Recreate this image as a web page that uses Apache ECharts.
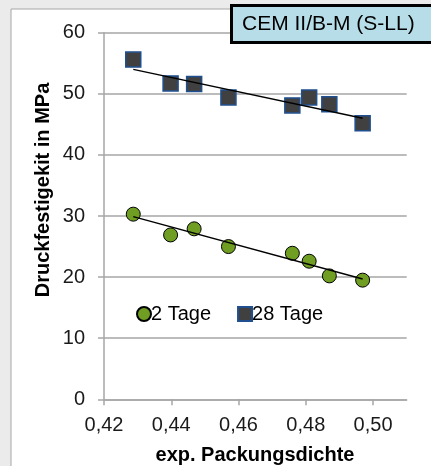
<!DOCTYPE html>
<html><head><meta charset="utf-8">
<script src="https://cdn.jsdelivr.net/npm/echarts@6/dist/echarts.min.js"></script>
<style>html,body{margin:0;padding:0;background:#ebebeb;}#c{width:431px;height:466px;}</style>
</head><body><div id="c"></div>
<script>
const seriesNames = ['2 Tage', '28 Tage'];
const packDensity = [0.4287, 0.4398, 0.4468, 0.457, 0.476, 0.481, 0.487, 0.4969];
const strength2d = [30.3, 26.9, 27.9, 25.0, 23.9, 22.6, 20.2, 19.5];
const strength28d = [55.6, 51.7, 51.6, 49.4, 48.1, 49.4, 48.3, 45.2];
const trendX = [0.4287, 0.4969];
const trend2d = [29.9, 19.7];
const trend28d = [54.0, 46.0];
const xTicks = [0.42, 0.44, 0.46, 0.48, 0.50];
const yTicks = [0, 10, 20, 30, 40, 50, 60];
const titleText = 'CEM II/B-M (S-LL)';
const xTitle = 'exp. Packungsdichte';
const yTitle = 'Druckfestigekit in MPa';

const pairs = (xs, ys) => xs.map((x, i) => [x, ys[i]]);
const font = 'Liberation Sans, Arial, sans-serif';
const chart = echarts.init(document.getElementById('c'), null, {renderer: 'canvas'});
chart.setOption({
  backgroundColor: '#ebebeb',
  animation: false,
  graphic: [
    {type: 'rect', z: -10, shape: {x: 11, y: 9, width: 440, height: 480}, style: {fill: '#ffffff', stroke: '#a6a6a6', lineWidth: 1}},
    {type: 'rect', z: 10, shape: {x: 231.5, y: 5.5, width: 210, height: 37}, style: {fill: '#b7dee8', stroke: '#000000', lineWidth: 3}},
    {type: 'text', z: 11, x: 242, y: 24, style: {text: titleText, font: '21px ' + font, fill: '#000', textVerticalAlign: 'middle'}},
    {type: 'text', z: 11, x: 255, y: 455, style: {text: xTitle, font: 'bold 20px ' + font, fill: '#000', textAlign: 'center', textVerticalAlign: 'middle'}},
    {type: 'text', z: 11, x: 43, y: 190, rotation: Math.PI / 2, style: {text: yTitle, font: 'bold 20px ' + font, fill: '#000', textAlign: 'center', textVerticalAlign: 'middle'}}
  ],
  grid: {left: 104, right: 24.3, top: 32.7, bottom: 66.7, containLabel: false},
  legend: {
    left: 131, top: 299,
    itemWidth: 14, itemHeight: 14, itemGap: 26,
    textStyle: {fontSize: 20, fontFamily: font, color: '#000', padding: [0, 0, 0, -5]},
    data: [
      {name: seriesNames[0], icon: 'circle'},
      {name: seriesNames[1], icon: 'rect'}
    ]
  },
  xAxis: {
    type: 'value', min: 0.42, max: 0.51, interval: 0.02,
    splitLine: {show: false},
    axisLine: {lineStyle: {color: '#a6a6a6', width: 1.5}},
    axisTick: {show: true, length: 6, lineStyle: {color: '#a6a6a6', width: 1.5}, customValues: xTicks},
    axisLabel: {customValues: xTicks, fontSize: 20, fontFamily: font, color: '#1a1a1a', margin: 16,
      formatter: v => v.toFixed(2).replace('.', ',')}
  },
  yAxis: {
    type: 'value', min: 0, max: 60, interval: 10,
    splitLine: {show: true, lineStyle: {color: '#a6a6a6', width: 1.5}},
    axisLine: {show: true, lineStyle: {color: '#a6a6a6', width: 1.5}},
    axisTick: {show: true, length: 6, lineStyle: {color: '#a6a6a6', width: 1.5}},
    axisLabel: {fontSize: 20, fontFamily: font, color: '#1a1a1a', margin: 19}
  },
  series: [
    {name: seriesNames[0], type: 'scatter', symbol: 'circle', symbolSize: 14, z: 3,
      itemStyle: {color: '#6f9e22', borderColor: '#000', borderWidth: 1, opacity: 1},
      data: pairs(packDensity, strength2d)},
    {name: seriesNames[1], type: 'scatter', symbol: 'rect', symbolSize: 15, z: 3,
      itemStyle: {color: '#404040', borderColor: '#1f4f8f', borderWidth: 1.5, opacity: 1},
      data: pairs(packDensity, strength28d)},
    {name: 'trend2', type: 'line', symbol: 'none', z: 4, lineStyle: {color: '#000', width: 1.5},
      data: pairs(trendX, trend2d)},
    {name: 'trend28', type: 'line', symbol: 'none', z: 4, lineStyle: {color: '#000', width: 1.5},
      data: pairs(trendX, trend28d)}
  ]
});
</script></body></html>
